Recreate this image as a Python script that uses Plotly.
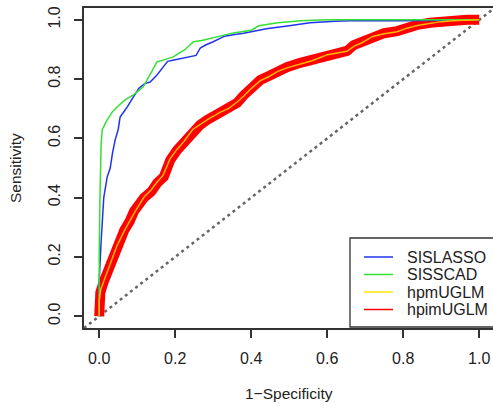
import plotly.graph_objects as go

# ---------------- data ----------------
series_names = ["SISLASSO", "SISSCAD", "hpmUGLM", "hpimUGLM"]
series_colors = ["#2233EE", "#33E033", "#FFE600", "#FF0000"]

lasso_fpr = [0, 0, 0.005, 0.008, 0.012, 0.021, 0.029, 0.035, 0.042, 0.05, 0.055, 0.065, 0.074, 0.09,
             0.105, 0.12, 0.134, 0.152, 0.168, 0.18, 0.20, 0.23, 0.255, 0.266, 0.28, 0.30, 0.33, 0.353,
             0.38, 0.42, 0.44, 0.50, 0.555, 0.62, 0.66, 0.80, 0.95, 1.0]
lasso_tpr = [0, 0.12, 0.25, 0.32, 0.40, 0.47, 0.50, 0.55, 0.595, 0.63, 0.672, 0.69, 0.706, 0.74,
             0.77, 0.785, 0.79, 0.814, 0.84, 0.86, 0.865, 0.872, 0.88, 0.905, 0.915, 0.926, 0.945, 0.95,
             0.955, 0.965, 0.97, 0.98, 0.99, 0.995, 0.997, 0.997, 0.998, 1.0]

scad_fpr = [0, 0, 0.002, 0.003, 0.005, 0.008, 0.02, 0.035, 0.047, 0.068, 0.09, 0.116, 0.13, 0.14,
            0.152, 0.17, 0.195, 0.226, 0.248, 0.27, 0.30, 0.353, 0.40, 0.42, 0.47, 0.53, 0.60, 1.0]
scad_tpr = [0, 0.21, 0.40, 0.47, 0.58, 0.63, 0.66, 0.69, 0.706, 0.73, 0.747, 0.774, 0.807, 0.83,
            0.858, 0.865, 0.875, 0.90, 0.926, 0.93, 0.94, 0.956, 0.965, 0.98, 0.99, 0.997, 1.0, 1.0]

hpm_fpr = [0, 0, 0.004, 0.014, 0.03, 0.046, 0.066, 0.08, 0.094, 0.118, 0.136, 0.152, 0.168, 0.178,
           0.186, 0.204, 0.222, 0.246, 0.266, 0.286, 0.318, 0.342, 0.362, 0.38, 0.40, 0.424, 0.446,
           0.47, 0.494, 0.53, 0.56, 0.60, 0.632, 0.652, 0.672, 0.69, 0.72, 0.75, 0.784, 0.81, 0.84,
           0.87, 0.90, 0.93, 0.968, 1.0]
hpm_tpr = [0, 0.05, 0.09, 0.125, 0.185, 0.235, 0.288, 0.322, 0.352, 0.402, 0.425, 0.452, 0.475, 0.505,
           0.53, 0.562, 0.588, 0.63, 0.648, 0.664, 0.688, 0.702, 0.722, 0.742, 0.768, 0.795, 0.808,
           0.826, 0.838, 0.852, 0.862, 0.882, 0.888, 0.894, 0.912, 0.922, 0.944, 0.953, 0.96, 0.972,
           0.982, 0.989, 0.994, 0.997, 1.0, 1.0]

hpim_fpr = [0, 0, 0.003, 0.013, 0.03, 0.047, 0.066, 0.08, 0.092, 0.118, 0.137, 0.153, 0.17, 0.179,
            0.187, 0.205, 0.22, 0.247, 0.265, 0.284, 0.318, 0.34, 0.363, 0.38, 0.40, 0.424, 0.445,
            0.468, 0.494, 0.529, 0.56, 0.60, 0.63, 0.652, 0.67, 0.69, 0.721, 0.75, 0.784, 0.81, 0.837,
            0.87, 0.897, 0.93, 0.968, 1.0]
hpim_tpr = [0, 0.07, 0.08, 0.12, 0.18, 0.233, 0.29, 0.32, 0.355, 0.40, 0.42, 0.45, 0.47, 0.50,
            0.527, 0.56, 0.584, 0.628, 0.645, 0.662, 0.686, 0.70, 0.72, 0.745, 0.77, 0.797, 0.81,
            0.828, 0.84, 0.855, 0.865, 0.885, 0.89, 0.895, 0.915, 0.925, 0.947, 0.955, 0.962, 0.975,
            0.983, 0.99, 0.994, 0.997, 1.0, 1.0]

tick_vals = [0.0, 0.2, 0.4, 0.6, 0.8, 1.0]
tick_text = ["0.0", "0.2", "0.4", "0.6", "0.8", "1.0"]
x_title = "1\u2212Specificity"
y_title = "Sensitivity"

# ---------------- figure ----------------
FONT = "Liberation Sans, Arial, Helvetica, sans-serif"
TXT = "#222222"
W, H = 493, 406
ML, MR, MT, MB = 84, 0, 8, 78
PW, PH = W - ML - MR, H - MT - MB
px_per_unit = 380.0

fig = go.Figure()
# red (thick) first, then blue, green, yellow on top
fig.add_trace(go.Scatter(x=hpim_fpr, y=hpim_tpr, mode="lines", name=series_names[3],
                         line=dict(color=series_colors[3], width=10), showlegend=False))
fig.add_trace(go.Scatter(x=lasso_fpr, y=lasso_tpr, mode="lines", name=series_names[0],
                         line=dict(color=series_colors[0], width=1.5), showlegend=False))
fig.add_trace(go.Scatter(x=scad_fpr, y=scad_tpr, mode="lines", name=series_names[1],
                         line=dict(color=series_colors[1], width=1.5), showlegend=False))
fig.add_trace(go.Scatter(x=hpm_fpr, y=hpm_tpr, mode="lines", name=series_names[2],
                         line=dict(color="#FFB800", width=1.5), showlegend=False))

shapes = []
# chance diagonal
shapes.append(dict(type="line", xref="x", yref="y", x0=-0.04, y0=-0.04, x1=1.04, y1=1.04,
                   line=dict(color="#666666", width=2.5, dash="3px,3.5px"), layer="below"))

# legend box (manual, R style)
def pxx(p):
    return (p - ML) / PW

def pxy(p):
    return (MT + PH - p) / PH

shapes.append(dict(type="rect", xref="paper", yref="paper", x0=pxx(350), x1=1.05,
                   y0=pxy(327), y1=pxy(238), line=dict(color="#333333", width=1.3),
                   fillcolor="white", layer="above"))
annotations = []
rows = [257, 274.5, 292, 309.5]
for name, col, ry in zip(series_names, series_colors, rows):
    shapes.append(dict(type="line", xref="paper", yref="paper", x0=pxx(364), x1=pxx(393),
                       y0=pxy(ry), y1=pxy(ry), line=dict(color=col, width=1.5), layer="above"))
    annotations.append(dict(xref="paper", yref="paper", x=pxx(405), y=pxy(ry), text=name,
                            showarrow=False, xanchor="left", yanchor="middle",
                            font=dict(family=FONT, size=16, color=TXT)))

annotations.append(dict(xref="paper", yref="paper", x=pxx(289), y=pxy(393), text=x_title,
                        showarrow=False, xanchor="center", yanchor="middle",
                        font=dict(family=FONT, size=15.5, color=TXT)))
annotations.append(dict(xref="paper", yref="paper", x=pxx(15), y=0.5, text=y_title,
                        showarrow=False, xanchor="center", yanchor="middle", textangle=-90,
                        font=dict(family=FONT, size=15.5, color=TXT)))

fig.update_layout(
    width=W, height=H,
    margin=dict(l=ML, r=MR, t=MT, b=MB, pad=0),
    paper_bgcolor="white", plot_bgcolor="white",
    showlegend=False,
    shapes=shapes, annotations=annotations,
    font=dict(family=FONT, size=16, color=TXT),
)
fig.update_xaxes(range=[-0.04, -0.04 + PW / px_per_unit], tickvals=tick_vals, ticktext=tick_text,
                 showgrid=False, zeroline=False, showline=True, mirror=True,
                 linecolor="#333333", linewidth=1.5, ticks="outside", ticklen=8, tickwidth=1.5,
                 tickcolor="#333333", ticklabelstandoff=7, tickfont=dict(size=16, color=TXT))
fig.update_yaxes(range=[-0.04, 1.04], tickvals=tick_vals, ticktext=tick_text,
                 showgrid=False, zeroline=False, showline=True, mirror=False,
                 linecolor="#333333", linewidth=1.5, ticks="outside", ticklen=8, tickwidth=1.5,
                 tickcolor="#333333", tickangle=-90, ticklabelstandoff=8,
                 tickfont=dict(size=16, color=TXT))

fig.write_html("out.html")
